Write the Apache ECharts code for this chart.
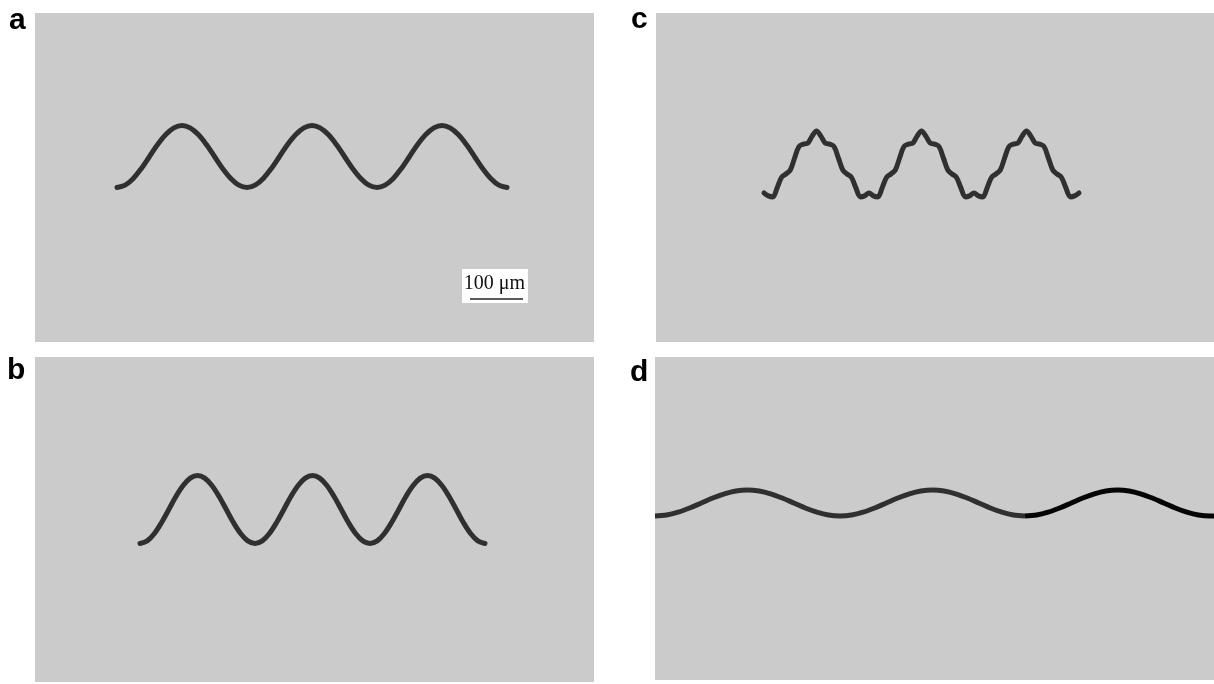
<!DOCTYPE html>
<html>
<head>
<meta charset="utf-8">
<script src="https://cdn.jsdelivr.net/npm/echarts@6/dist/echarts.min.js"></script>
<style>
html,body{margin:0;padding:0;background:#fff;}
#chart{width:1214px;height:684px;}
</style>
</head>
<body>
<div id="chart"></div>
<script>
// Panel labels
const panelLabels = ['a', 'b', 'c', 'd'];

// Curve a (panel-local units, y measured downward)
const curveA = [
  [82,174.5],[90.1,172.1],[98.3,165.4],[106.4,155.4],[114.5,143.5],[122.6,131.6],[130.8,121.6],[138.9,114.9],
  [147,112.5],[155.1,114.9],[163.3,121.6],[171.4,131.6],[179.5,143.5],[187.6,155.4],[195.8,165.4],[203.9,172.1],
  [212,174.5],[220.1,172.1],[228.3,165.4],[236.4,155.4],[244.5,143.5],[252.6,131.6],[260.8,121.6],[268.9,114.9],
  [277,112.5],[285.1,114.9],[293.3,121.6],[301.4,131.6],[309.5,143.5],[317.6,155.4],[325.8,165.4],[333.9,172.1],
  [342,174.5],[350.1,172.1],[358.3,165.4],[366.4,155.4],[374.5,143.5],[382.6,131.6],[390.8,121.6],[398.9,114.9],
  [407,112.5],[415.1,114.9],[423.3,121.6],[431.4,131.6],[439.5,143.5],[447.6,155.4],[455.8,165.4],[463.9,172.1],
  [472,174.5]];

// Curve b
const curveB = [
  [105,186.5],[112.2,183.9],[119.4,176.5],[126.6,165.5],[133.8,152.5],[140.9,139.5],[148.1,128.5],[155.3,121.1],
  [162.5,118.5],[169.7,121.1],[176.9,128.5],[184.1,139.5],[191.3,152.5],[198.4,165.5],[205.6,176.5],[212.8,183.9],
  [220,186.5],[227.2,183.9],[234.4,176.5],[241.6,165.5],[248.8,152.5],[255.9,139.5],[263.1,128.5],[270.3,121.1],
  [277.5,118.5],[284.7,121.1],[291.9,128.5],[299.1,139.5],[306.3,152.5],[313.4,165.5],[320.6,176.5],[327.8,183.9],
  [335,186.5],[342.2,183.9],[349.4,176.5],[356.6,165.5],[363.8,152.5],[370.9,139.5],[378.1,128.5],[385.3,121.1],
  [392.5,118.5],[399.7,121.1],[406.9,128.5],[414.1,139.5],[421.3,152.5],[428.4,165.5],[435.6,176.5],[442.8,183.9],
  [450,186.5]];

// Curve c (wave with superimposed ripple)
const curveC = [
  [108,180],[112.4,182.9],[116.8,183.9],[121.1,174.9],[125.5,164.5],[129.9,161],[134.3,157],[138.6,145],[143,133.5],[147.4,131.1],[151.8,130.2],[156.1,123.1],
  [160.5,118],[164.9,123.1],[169.3,130.2],[173.6,131.1],[178,133.5],[182.4,145],[186.8,157],[191.1,161],[195.5,164.5],[199.9,174.9],[204.3,183.9],[208.6,182.9],
  [213,180],[217.4,182.9],[221.8,183.9],[226.1,174.9],[230.5,164.5],[234.9,161],[239.3,157],[243.6,145],[248,133.5],[252.4,131.1],[256.8,130.2],[261.1,123.1],
  [265.5,118],[269.9,123.1],[274.3,130.2],[278.6,131.1],[283,133.5],[287.4,145],[291.8,157],[296.1,161],[300.5,164.5],[304.9,174.9],[309.3,183.9],[313.6,182.9],
  [318,180],[322.4,182.9],[326.8,183.9],[331.1,174.9],[335.5,164.5],[339.9,161],[344.3,157],[348.6,145],[353,133.5],[357.4,131.1],[361.8,130.2],[366.1,123.1],
  [370.5,118],[374.9,123.1],[379.3,130.2],[383.6,131.1],[388,133.5],[392.4,145],[396.8,157],[401.1,161],[405.5,164.5],[409.9,174.9],[414.3,183.9],[418.6,182.9],
  [423,180]];

// Curve d, grey part and black part
const curveD1 = [
  [0,159],[11.6,158],[23.1,155.2],[34.7,151],[46.3,146],[57.8,141],[69.4,136.8],[80.9,134],
  [92.5,133],[104.1,134],[115.6,136.8],[127.2,141],[138.8,146],[150.3,151],[161.9,155.2],[173.4,158],
  [185,159],[196.6,158],[208.1,155.2],[219.7,151],[231.3,146],[242.8,141],[254.4,136.8],[265.9,134],
  [277.5,133],[289.1,134],[300.6,136.8],[312.2,141],[323.8,146],[335.3,151],[346.9,155.2],[358.4,158],
  [370,159]];
const curveD2 = [
  [370,159],[381.6,158],[393.1,155.2],[404.7,151],[416.3,146],[427.8,141],[439.4,136.8],[450.9,134],
  [462.5,133],[474.1,134],[485.6,136.8],[497.2,141],[508.8,146],[520.3,151],[531.9,155.2],[543.4,158],
  [555,159],[559,158.9]];

// Scale bar
const scaleBarText = '100 \u03bcm';
const scaleBarLength = 53;

const panels = [
  {left:35, top:13, width:559, height:329},
  {left:35, top:357, width:559, height:325},
  {left:656, top:13, width:558, height:329},
  {left:655, top:357, width:559, height:323}
];
const labelPos = [[9,6],[7,356],[631,5],[630,358]];

const BG = '#cbcbcb';
const LINE = '#303030';

const chart = echarts.init(document.getElementById('chart'), null, {renderer:'canvas'});

const grid = panels.map(p => ({left:p.left, top:p.top, width:p.width, height:p.height,
  show:true, backgroundColor:BG, borderWidth:0, containLabel:false}));
const xAxis = panels.map((p,i) => ({type:'value', gridIndex:i, min:0, max:p.width, show:false}));
const yAxis = panels.map((p,i) => ({type:'value', gridIndex:i, min:0, max:p.height, inverse:true, show:false}));

function curve(data, idx, color, z, cap) {
  return {type:'line', xAxisIndex:idx, yAxisIndex:idx, data:data, showSymbol:false, symbol:'none',
    smooth:0.34, clip:true, silent:true, z:z||2,
    lineStyle:{color:color, width:5, cap:cap||'round', join:'round'}};
}

const sbX0 = 435, sbY = 286;
const series = [
  curve(curveA, 0, LINE),
  curve(curveB, 1, LINE),
  curve(curveC, 2, LINE),
  curve(curveD1, 3, LINE, 2, 'butt'),
  curve(curveD2, 3, '#050505', 3, 'butt'),
  {type:'line', xAxisIndex:0, yAxisIndex:0, data:[[sbX0,sbY],[sbX0+scaleBarLength,sbY]],
    showSymbol:false, symbol:'none', silent:true, z:5,
    lineStyle:{color:'#5a5a5a', width:2},
    markArea:{silent:true, itemStyle:{color:'#ffffff', opacity:1}, z:1,
      data:[[{xAxis:427, yAxis:256},{xAxis:493, yAxis:290}]]}}
];

const graphic = panelLabels.map((t,i) => ({type:'text', x:labelPos[i][0], y:labelPos[i][1], silent:true, z:10,
  style:{text:t, font:'bold 30px "Liberation Sans", Arial, sans-serif', fill:'#000', verticalAlign:'top'}}));
graphic.push({type:'text', x:494.5, y:294, silent:true, z:10,
  style:{text:scaleBarText, font:'20px "Liberation Serif", "Times New Roman", serif', fill:'#111', align:'center', verticalAlign:'bottom'}});

chart.setOption({animation:false, backgroundColor:'#ffffff', grid, xAxis, yAxis, series, graphic});
</script>
</body>
</html>
